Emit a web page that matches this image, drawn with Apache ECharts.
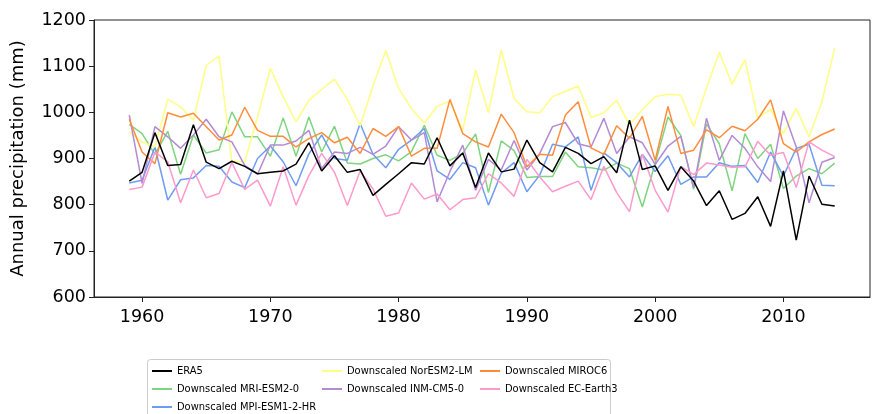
<!DOCTYPE html>
<html>
<head>
<meta charset="utf-8">
<script src="https://cdn.jsdelivr.net/npm/echarts@6/dist/echarts.min.js"></script>
<style>html,body{margin:0;padding:0;background:#fff;}#c{width:874px;height:414px;}</style>
</head>
<body>
<div id="c"></div>
<script>
const years = [1959,1960,1961,1962,1963,1964,1965,1966,1967,1968,1969,1970,1971,1972,1973,1974,1975,1976,1977,1978,1979,1980,1981,1982,1983,1984,1985,1986,1987,1988,1989,1990,1991,1992,1993,1994,1995,1996,1997,1998,1999,2000,2001,2002,2003,2004,2005,2006,2007,2008,2009,2010,2011,2012,2013,2014];
const era5 = [851,870,956,885,887,973,892,878,894,883,867,870,873,888,934,873,906,870,876,820,844,867,891,888,945,884,912,837,912,871,877,940,891,871,924,911,889,904,869,983,876,884,831,882,851,798,830,768,781,817,753,873,723,862,801,797];
const mri = [974,954,909,959,866,951,912,919,1001,947,947,905,988,905,990,914,970,890,888,900,908,895,915,972,907,896,911,953,826,938,917,859,861,861,914,882,880,875,890,878,795,889,990,950,833,975,932,830,954,900,931,835,862,878,867,890];
const mpi = [847,853,925,810,854,858,885,883,849,837,900,927,893,841,910,951,900,896,976,909,880,920,940,965,873,855,891,880,799,868,891,828,864,931,925,947,831,912,891,860,909,872,906,844,860,860,891,883,885,848,914,862,922,931,842,841];
const nor = [958,936,925,1028,1012,983,1102,1122,894,893,990,1095,1034,979,1026,1050,1072,1028,971,1057,1134,1052,1008,977,1013,1024,961,1092,999,1135,1030,1001,999,1034,1045,1057,989,999,1026,973,1006,1034,1039,1037,969,1052,1130,1061,1114,987,1007,954,1008,947,1023,1139];
const inm = [994,846,969,947,922,951,985,947,936,885,866,929,929,938,961,878,914,911,924,909,927,969,940,956,806,872,929,831,898,875,939,875,911,969,978,932,925,987,911,947,934,887,927,948,837,987,896,950,922,882,850,1003,925,804,892,902];
const miroc = [985,914,889,999,990,998,969,940,951,1011,961,948,948,925,943,956,934,946,911,965,948,969,905,922,922,1028,954,936,925,996,956,882,909,907,994,1023,923,909,971,944,991,896,1013,911,918,962,945,970,960,985,1027,932,914,936,952,964];
const ec = [833,838,914,893,804,875,815,824,891,833,853,797,882,799,863,911,870,798,873,834,775,782,847,812,823,789,811,815,867,847,818,898,860,828,840,851,811,883,826,785,909,831,784,883,865,890,886,881,882,937,907,913,837,936,918,904];
const xTicks = [1960,1970,1980,1990,2000,2010];

const names = ['ERA5','Downscaled MRI-ESM2-0','Downscaled MPI-ESM1-2-HR','Downscaled NorESM2-LM','Downscaled INM-CM5-0','Downscaled MIROC6','Downscaled EC-Earth3'];
const colors = ['#000000','#7fd47f','#6f9cf0','#ffff80','#b48ad4','#ff8c3a','#ff99cc'];
const vals = [era5, mri, mpi, nor, inm, miroc, ec];

const font = 'DejaVu Sans';
const legFont = '"Liberation Sans Narrow", "DejaVu Sans Condensed", sans-serif';
const series = [];
[1,2,3,4,5,6,0].forEach(i => {
  series.push({
    name: names[i], type: 'line', symbol: 'none', showSymbol: false, z: i === 0 ? 10 : 2 + i,
    lineStyle: {color: colors[i], width: 1.5},
    itemStyle: {color: colors[i]},
    data: years.map((y, k) => [y, vals[i][k]])
  });
});

const legendBase = {
  orient: 'vertical', top: 364, height: 120, padding: 0,
  icon: 'rect', itemWidth: 20, itemHeight: 2, itemGap: 4,
  textStyle: {fontFamily: legFont, fontSize: 11, lineHeight: 14, color: '#000'},
  selectedMode: false
};

const chart = echarts.init(document.getElementById('c'), null, {renderer: 'canvas'});
chart.setOption({
  animation: false,
  backgroundColor: '#fff',
  grid: {left: 94, right: 4, top: 20, bottom: 117, show: true, borderColor: '#222', borderWidth: 1, backgroundColor: 'transparent'},
  xAxis: {
    type: 'value', min: 1956.25, max: 2016.75,
    axisLine: {show: true, onZero: false, lineStyle: {color: '#222', width: 1}},
    axisTick: {show: true, inside: false, length: 5, lineStyle: {color: '#222'}, customValues: xTicks},
    axisLabel: {show: true, customValues: xTicks, fontFamily: font, fontSize: 17.5, color: '#000', margin: 11, formatter: v => String(v)},
    splitLine: {show: false}
  },
  yAxis: {
    type: 'value', min: 600, max: 1200, interval: 100,
    name: 'Annual precipitation (mm)', nameLocation: 'middle', nameGap: 67, nameRotate: 90,
    nameTextStyle: {fontFamily: font, fontSize: 18, color: '#000'},
    axisLine: {show: true, lineStyle: {color: '#222', width: 1}},
    axisTick: {show: true, inside: false, length: 5, lineStyle: {color: '#222'}},
    axisLabel: {fontFamily: font, fontSize: 17.5, color: '#000', margin: 8, formatter: v => String(v)},
    splitLine: {show: false}
  },
  legend: [
    Object.assign({left: 152, data: [names[0], names[1], names[2]]}, legendBase),
    Object.assign({left: 322, data: [names[3], names[4]]}, legendBase),
    Object.assign({left: 480, data: [names[5], names[6]]}, legendBase)
  ],
  graphic: [{
    type: 'rect', left: 147, top: 359, z: -1,
    shape: {width: 463, height: 70, r: 3},
    style: {fill: '#fff', stroke: '#cccccc', lineWidth: 1}
  }],
  series: series
});
</script>
</body>
</html>
